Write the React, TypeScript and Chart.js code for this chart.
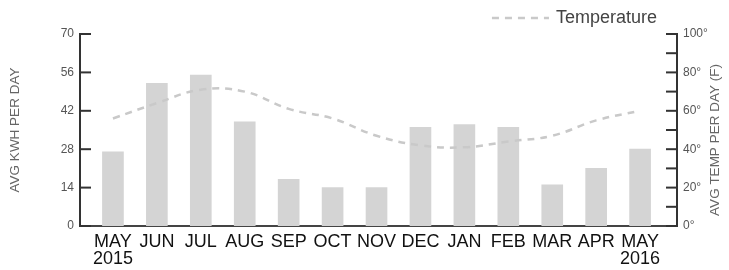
import { useEffect, useRef } from 'react';
import { Chart, registerables } from 'chart.js';

Chart.register(...registerables);

const months = ['MAY', 'JUN', 'JUL', 'AUG', 'SEP', 'OCT', 'NOV', 'DEC', 'JAN', 'FEB', 'MAR', 'APR', 'MAY'];
const years = ['2015', '', '', '', '', '', '', '', '', '', '', '', '2016'];
const kwhPerDay = [27, 52, 55, 38, 17, 14, 14, 36, 37, 36, 15, 21, 28];
const avgTemp = [56, 64, 71, 70, 61, 56, 47, 42, 41, 44, 47, 55, 60];
const kwhTicks = [0, 14, 28, 42, 56, 70];
const tempTicks = [0, 10, 20, 30, 40, 50, 60, 70, 80, 90, 100];
const leftTitle = 'AVG KWH PER DAY';
const rightTitle = 'AVG TEMP PER DAY (F)';

const FONT = '"Liberation Sans", Arial, sans-serif';

const inwardTicks = {
  id: 'inwardTicks',
  afterDatasetsDraw(chart: any) {
    const { ctx } = chart;
    const y = chart.scales.y;
    const t = chart.scales.t;
    ctx.save();
    ctx.strokeStyle = '#333';
    ctx.lineWidth = 2;
    y.ticks.forEach((tk: any) => {
      const py = y.getPixelForValue(tk.value);
      ctx.beginPath();
      ctx.moveTo(y.right, py);
      ctx.lineTo(y.right + 11, py);
      ctx.stroke();
    });
    t.ticks.forEach((tk: any) => {
      const py = t.getPixelForValue(tk.value);
      ctx.beginPath();
      ctx.moveTo(t.left, py);
      ctx.lineTo(t.left - 11, py);
      ctx.stroke();
    });
    ctx.restore();
  },
};

const extras = {
  id: 'extras',
  afterDraw(chart: any) {
    const { ctx, chartArea } = chart;
    const ds = chart.data.datasets[1];
    ctx.save();
    // legend
    ctx.font = `18px ${FONT}`;
    ctx.fillStyle = '#444';
    ctx.textBaseline = 'middle';
    const label = ds.label as string;
    const tw = ctx.measureText(label).width;
    const textEnd = chartArea.right - 20;
    const textStart = textEnd - tw;
    const ly = chartArea.top - 16;
    ctx.fillText(label, textStart, ly);
    ctx.strokeStyle = ds.borderColor;
    ctx.lineWidth = ds.borderWidth;
    ctx.setLineDash(ds.borderDash);
    ctx.beginPath();
    ctx.moveTo(textStart - 64, ly);
    ctx.lineTo(textStart - 7, ly);
    ctx.stroke();
    ctx.setLineDash([]);
    // right title, reading bottom to top
    const t = chart.scales.t;
    ctx.font = `13.5px ${FONT}`;
    ctx.fillStyle = '#666';
    ctx.textAlign = 'center';
    ctx.translate(t.right - 14, (chartArea.top + chartArea.bottom) / 2 + 10);
    ctx.rotate(-Math.PI / 2);
    ctx.fillText(rightTitle, 0, 0);
    ctx.restore();
  },
};

export default function App() {
  const ref = useRef<HTMLCanvasElement>(null);
  useEffect(() => {
    if (!ref.current) return;
    const chart = new Chart(ref.current, {
      type: 'bar',
      data: {
        datasets: [
          {
            type: 'bar',
            label: 'kWh',
            data: kwhPerDay.map((v, i) => ({ x: i, y: v })),
            backgroundColor: '#d4d4d4',
            barThickness: 21,
            yAxisID: 'y',
            order: 2,
          },
          {
            type: 'line',
            label: 'Temperature',
            data: avgTemp.map((v, i) => ({ x: i, y: v })),
            borderColor: '#c9c9c9',
            borderWidth: 2.5,
            borderDash: [7, 6],
            tension: 0.4,
            pointRadius: 0,
            fill: false,
            yAxisID: 't',
            order: 1,
          } as any,
        ],
      },
      options: {
        responsive: false,
        animation: false,
        layout: { padding: { top: 34, left: 0, right: 0, bottom: 0 } },
        plugins: { legend: { display: false }, tooltip: { enabled: false } },
        scales: {
          x: {
            type: 'linear',
            offset: false,
            min: -0.75,
            max: 12.84,
            afterBuildTicks: (s: any) => {
              s.ticks = months.map((_, i) => ({ value: i }));
            },
            afterFit: (s: any) => {
              s.height = 44;
              s.paddingLeft = 0;
              s.paddingRight = 0;
            },
            grid: { display: false, drawTicks: false },
            border: { display: true, color: '#444', width: 2 },
            ticks: {
              autoSkip: false,
              maxRotation: 0,
              padding: 7,
              color: '#111',
              font: { family: FONT, size: 18, lineHeight: 0.95 },
              callback: (v: any) => {
                const i = Math.round(Number(v));
                return years[i] ? [months[i], years[i]] : months[i];
              },
            },
          },
          y: {
            type: 'linear',
            position: 'left',
            min: 0,
            max: 70,
            afterBuildTicks: (s: any) => {
              s.ticks = kwhTicks.map((v) => ({ value: v }));
            },
            afterFit: (s: any) => {
              s.width = 80;
            },
            grid: { display: false, drawTicks: false },
            border: { display: true, color: '#333', width: 2 },
            ticks: { padding: 6, color: '#555', font: { family: FONT, size: 12 } },
            title: {
              display: true,
              text: leftTitle,
              color: '#666',
              font: { family: FONT, size: 13.5 },
              padding: { top: 7, bottom: 0 },
            },
          },
          t: {
            type: 'linear',
            position: 'right',
            min: 0,
            max: 100,
            afterBuildTicks: (s: any) => {
              s.ticks = tempTicks.map((v) => ({ value: v }));
            },
            afterFit: (s: any) => {
              s.width = 52;
            },
            grid: { display: false, drawTicks: false },
            border: { display: true, color: '#333', width: 2 },
            ticks: {
              padding: 6,
              color: '#555',
              font: { family: FONT, size: 12 },
              callback: (v: any) => (Number(v) % 20 === 0 ? `${v}°` : ''),
            },
          },
        },
      } as any,
      plugins: [inwardTicks, extras],
    });
    return () => chart.destroy();
  }, []);
  return (
    <canvas
      ref={ref}
      width={729}
      height={270}
      style={{ position: 'absolute', left: 0, top: 0, display: 'block' }}
    />
  );
}
